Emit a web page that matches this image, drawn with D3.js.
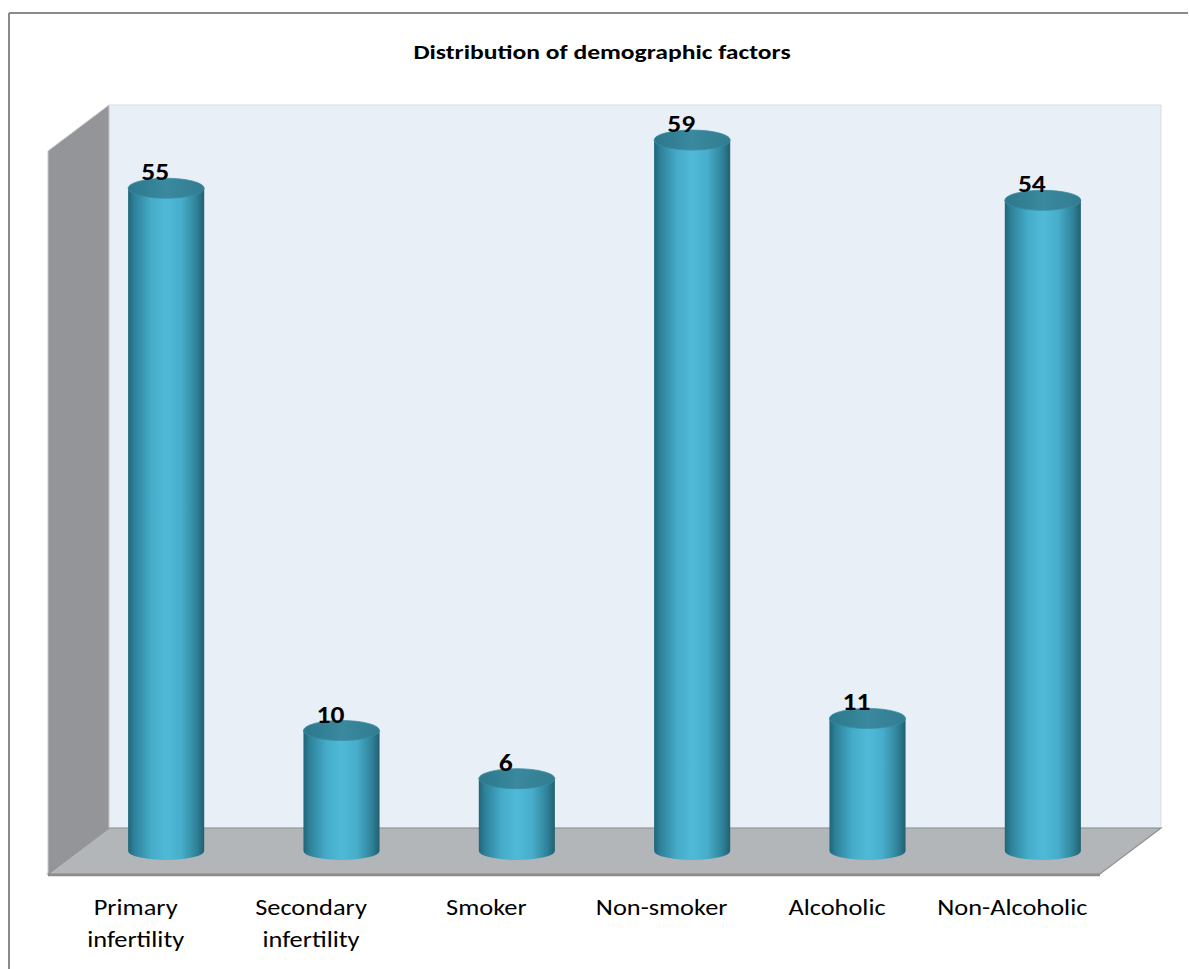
<!DOCTYPE html>
<html>
<head>
<meta charset="utf-8">
<script src="https://cdn.jsdelivr.net/npm/d3@7"></script>
<style>
  html, body { margin: 0; padding: 0; background: #fff; }
  svg { display: block; font-family: Calibri, Carlito, Lato, sans-serif; }
</style>
</head>
<body>
<div id="chart"></div>
<script>
// Data
const categories = ['Primary infertility', 'Secondary infertility', 'Smoker', 'Non-smoker', 'Alcoholic', 'Non-Alcoholic'];
const labelLines = [['Primary', 'infertility'], ['Secondary', 'infertility'], ['Smoker'], ['Non-smoker'], ['Alcoholic'], ['Non-Alcoholic']];
const values = [55, 10, 6, 59, 11, 54];
const yDomain = [0, 60];

const width = 1189;
const height = 969;
// the original picture is stretched sideways, so text is widened a bit
const textStretch = 1.2;

const svg = d3.select('#chart').append('svg')
    .attr('width', width)
    .attr('height', height);

// outer chart frame (only top and left visible)
svg.append('line').attr('x1', 9).attr('y1', 13).attr('x2', 1188).attr('y2', 13)
    .attr('stroke', '#8a8a8a').attr('stroke-width', 2);
svg.append('line').attr('x1', 9).attr('y1', 13).attr('x2', 9).attr('y2', height)
    .attr('stroke', '#8a8a8a').attr('stroke-width', 2);

// title
svg.append('text')
    .attr('transform', 'translate(602,59) scale(1.22,1)')
    .attr('text-anchor', 'middle')
    .style('font-size', '21px')
    .style('font-weight', 'bold')
    .text('Distribution of demographic factors');

// front plane scales, depth offset for the 3D box
const x = d3.scaleBand().domain(categories).range([48, 1100]);
const y = d3.scaleLinear().domain(yDomain).range([874, 151]);
const depth = { dx: 61, dy: -46 };
const proj = (px, py, z) => [px + depth.dx * z, py + depth.dy * z];

const y0 = y(yDomain[0]), y1 = y(yDomain[1]);
const xl = x.range()[0], xr = x.range()[1];

const poly = pts => 'M' + pts.map(p => p.join(',')).join('L') + 'Z';

// back wall
svg.append('path')
    .attr('d', poly([proj(xl, y1, 1), proj(xr, y1, 1), proj(xr, y0, 1), proj(xl, y0, 1)]))
    .attr('fill', '#e8eff6')
    .attr('stroke', '#d8dde2')
    .attr('stroke-width', 1);

// left wall
svg.append('path')
    .attr('d', poly([proj(xl, y1, 0), proj(xl, y1, 1), proj(xl, y0, 1), proj(xl, y0, 0)]))
    .attr('fill', '#949599')
    .attr('stroke', '#c8c9cb')
    .attr('stroke-width', 1);

// floor
svg.append('path')
    .attr('d', poly([proj(xl, y0, 0), proj(xl, y0, 1), proj(xr, y0, 1), proj(xr, y0, 0)]))
    .attr('fill', '#b3b6b9')
    .attr('stroke', '#8e9093')
    .attr('stroke-width', 1.2);

// front edge of floor (thicker)
svg.append('line')
    .attr('x1', xl).attr('y1', y0 + 1).attr('x2', xr).attr('y2', y0 + 1)
    .attr('stroke', '#8c8c8c').attr('stroke-width', 2.5);

// gradients
const defs = svg.append('defs');
const sideGrad = defs.append('linearGradient').attr('id', 'cylSide')
    .attr('x1', '0%').attr('x2', '100%').attr('y1', '0%').attr('y2', '0%');
[[0, '#1f6579'], [0.08, '#2d8199'], [0.3, '#45abc8'], [0.5, '#4fbad8'], [0.7, '#47aecb'], [0.9, '#2f8199'], [1, '#22606f']]
    .forEach(([o, c]) => sideGrad.append('stop').attr('offset', o).attr('stop-color', c));
const topGrad = defs.append('linearGradient').attr('id', 'cylTop')
    .attr('x1', '0%').attr('x2', '100%').attr('y1', '0%').attr('y2', '0%');
[[0, '#2c778b'], [0.5, '#3a899e'], [1, '#327c90']]
    .forEach(([o, c]) => topGrad.append('stop').attr('offset', o).attr('stop-color', c));

// cylinders at middle depth
const r = x.bandwidth() * 0.217;
const ryTop = 10;
const ryBot = 9;

const bars = svg.selectAll('.bar')
    .data(categories.map((c, i) => ({ c, v: values[i] })))
    .enter()
    .append('g')
    .attr('class', 'bar');

bars.each(function (d) {
    const g = d3.select(this);
    const [cx, baseY] = proj(x(d.c) + x.bandwidth() / 2, y(0), 0.5);
    const topY = proj(0, y(d.v), 0.5)[1];

    g.append('path')
        .attr('d', `M${cx - r},${topY} L${cx - r},${baseY} A${r},${ryBot} 0 0 0 ${cx + r},${baseY} L${cx + r},${topY} Z`)
        .attr('fill', 'url(#cylSide)');

    g.append('ellipse')
        .attr('cx', cx).attr('cy', topY)
        .attr('rx', r).attr('ry', ryTop)
        .attr('fill', 'url(#cylTop)')
        .attr('stroke', '#3a8da3')
        .attr('stroke-width', 0.8);

    g.append('text')
        .attr('transform', `translate(${cx - 11},${topY - 8}) scale(1.1,1)`)
        .attr('text-anchor', 'middle')
        .style('font-size', '25px')
        .style('font-weight', 'bold')
        .text(d.v);
});

// category labels under the front plane
svg.selectAll('.cat')
    .data(categories)
    .enter()
    .append('text')
    .attr('class', 'cat')
    .attr('transform', c => `translate(${x(c) + x.bandwidth() / 2},915) scale(${textStretch},1)`)
    .attr('text-anchor', 'middle')
    .style('font-size', '22px')
    .each(function (c, i) {
        const t = d3.select(this);
        labelLines[i].forEach((line, k) => {
            t.append('tspan')
                .attr('x', 0)
                .attr('y', k * 32)
                .text(line);
        });
    });
</script>
</body>
</html>
